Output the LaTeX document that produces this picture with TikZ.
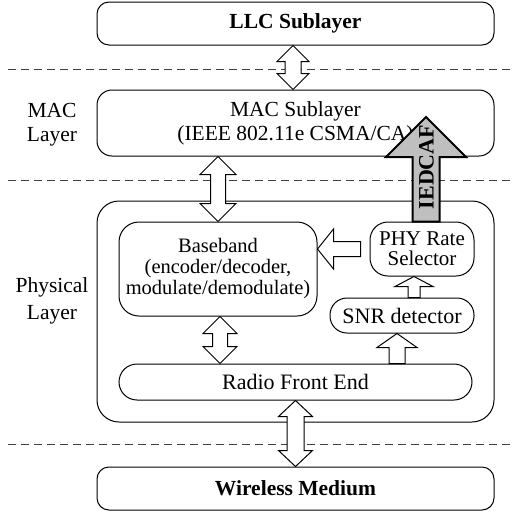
\documentclass[tikz,border=0pt]{standalone}
\usepackage{fontspec}
\setmainfont{Liberation Serif}
\usetikzlibrary{calc}

\tikzset{
  txt/.style={font=\fontsize{21.5}{24}\selectfont, align=center},
  layerbox/.style={txt, draw, line width=1pt, minimum width=397pt, inner sep=0pt},
  block/.style={txt, draw, line width=1pt, inner sep=0pt},
  sep/.style={draw=black!75, line width=0.9pt, dash pattern=on 8pt off 5pt},
  hollow/.style={draw, fill=white, line width=1pt},
  grayarrow/.style={draw, fill=gray!50, line width=2pt},
}

% block arrows: [style]{tip/top}{tail/bottom}{head half width}{head length}{shaft half width}
\newcommand{\twoway}[6][hollow]{%
  \path[#1] let \p1=#2, \p2=#3 in
    (\x1,\y1) -- (\x1+#4pt,\y1-#5pt) -- (\x1+#6pt,\y1-#5pt)
    -- (\x1+#6pt,\y2+#5pt) -- (\x1+#4pt,\y2+#5pt) -- (\x1,\y2)
    -- (\x1-#4pt,\y2+#5pt) -- (\x1-#6pt,\y2+#5pt)
    -- (\x1-#6pt,\y1-#5pt) -- (\x1-#4pt,\y1-#5pt) -- cycle;}
\newcommand{\upway}[6][hollow]{%
  \path[#1] let \p1=#2, \p2=#3 in
    (\x1,\y1) -- (\x1+#4pt,\y1-#5pt) -- (\x1+#6pt,\y1-#5pt)
    -- (\x1+#6pt,\y2) -- (\x1-#6pt,\y2)
    -- (\x1-#6pt,\y1-#5pt) -- (\x1-#4pt,\y1-#5pt) -- cycle;}
\newcommand{\leftway}[6][hollow]{%
  \path[#1] let \p1=#2, \p2=#3 in
    (\x1,\y1) -- (\x1+#5pt,\y1+#4pt) -- (\x1+#5pt,\y1+#6pt)
    -- (\x2,\y1+#6pt) -- (\x2,\y1-#6pt)
    -- (\x1+#5pt,\y1-#6pt) -- (\x1+#5pt,\y1-#4pt) -- cycle;}

\begin{document}
\begin{tikzpicture}[x=1pt, y=-1pt]
  \useasboundingbox (0,0) rectangle (513,515);

  % layer separators
  \foreach \yy in {69,180,444}
    \draw[sep] (8,\yy) -- (513,\yy);

  % layers
  \node[layerbox, minimum height=43pt, rounded corners=12pt, font=\fontsize{21.5}{24}\selectfont\bfseries]
    (llc) at (295.5,23.5) {LLC Sublayer};
  \node[layerbox, minimum height=66pt, rounded corners=15pt]
    (mac) at (295.5,123) {MAC Sublayer\\(IEEE 802.11e CSMA/CA)};
  \node[layerbox, minimum height=221pt, rounded corners=22pt] (phy) at (295.5,311.5) {};
  \node[layerbox, minimum height=43pt, rounded corners=12pt, font=\fontsize{21.5}{24}\selectfont\bfseries]
    (wm) at (295.5,488.5) {Wireless Medium};

  \node[txt] (maclbl) at (52,125) {MAC\\Layer};
  \node[txt, font=\fontsize{21.5}{27}\selectfont] (phylbl) at (52,301) {Physical\\Layer};

  % physical layer blocks
  \node[block, minimum width=198pt, minimum height=94pt, rounded corners=20pt,
        font=\fontsize{20.5}{21}\selectfont] (bb) at (218,269)
    {Baseband\\(encoder/decoder,\\modulate/demodulate)};
  \node[block, minimum width=104pt, minimum height=54pt, rounded corners=18pt,
        font=\fontsize{21}{20}\selectfont] (rate) at (422,249) {PHY Rate\\Selector};
  \node[block, minimum width=144pt, minimum height=35pt, rounded corners=17pt,
        font=\fontsize{22}{24}\selectfont] (snr) at (402,315.5) {SNR detector};
  \node[block, minimum width=353pt, minimum height=36pt, rounded corners=18pt,
        font=\fontsize{22}{24}\selectfont] (rfe) at (295.5,382) {Radio Front End};

  % hollow arrows
  \coordinate (llcx) at ([xshift=-2.5pt]llc.south);
  \twoway{(llcx)}{(mac.north -| llcx)}{16}{16}{8}
  \twoway{(mac.south -| bb.north)}{([xshift=2pt]bb.north)}{18}{18}{7.5}
  \leftway{(rate.west -| bb.east)}{([xshift=-9pt]rate.west)}{20}{16}{7.5}
  \coordinate (snrx) at ([xshift=-8pt]rate.south);
  \upway{(snrx)}{(snr.north -| snrx)}{19}{10}{6}
  \coordinate (rfex) at ([xshift=-5pt]snr.south);
  \upway{(rfex)}{(rfe.north -| rfex)}{20}{14}{8}
  \twoway{([xshift=2pt]bb.south)}{([xshift=2pt]rfe.north -| bb.south)}{17}{17}{7.5}
  \twoway{(rfe.south)}{(wm.north)}{17}{16}{8.5}

  % rate feedback to the MAC
  \coordinate (tip) at (426,117);
  \upway[grayarrow]{(tip)}{(rate.north -| tip)}{40}{40}{13.5}
  \node[rotate=90, font=\fontsize{22}{24}\selectfont\bfseries] (iedcaf) at (426.5,167) {IEDCAF};
\end{tikzpicture}
\end{document}
